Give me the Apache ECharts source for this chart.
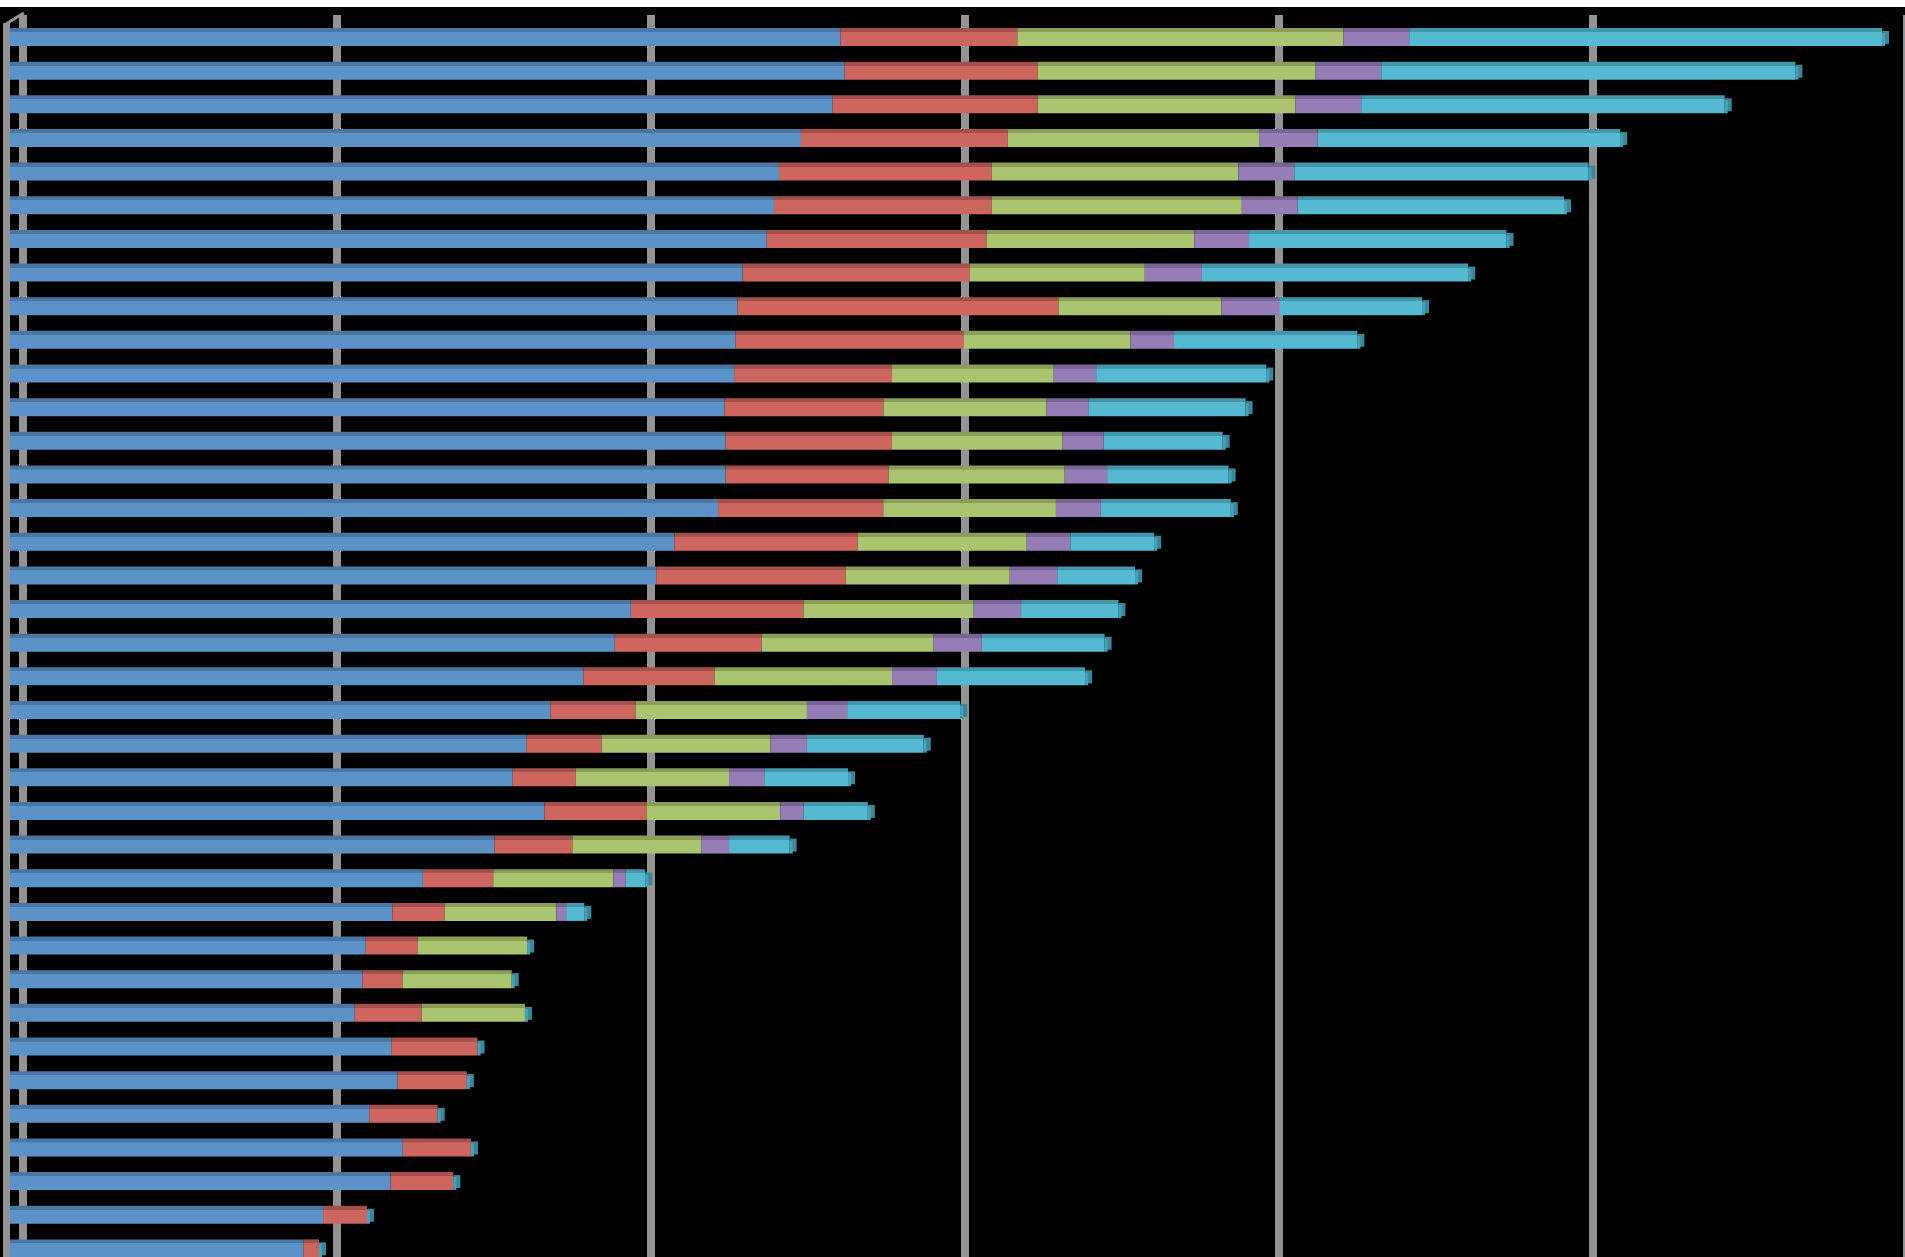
<!DOCTYPE html>
<html>
<head>
<meta charset="utf-8">
<script src="https://cdn.jsdelivr.net/npm/echarts@6/dist/echarts.min.js"></script>
<style>
html,body{margin:0;padding:0;background:#ffffff;width:1905px;height:1257px;overflow:hidden;}
#chart{position:absolute;left:0;top:7px;width:1905px;height:1262px;background:#000000;}
</style>
</head>
<body>
<div id="chart"></div>
<script>
var categories = [];
for (var i = 1; i <= 37; i++) { categories.push('R' + i); }

var blue   = [26.45, 26.58, 26.20, 25.19, 24.49, 24.33, 24.10, 23.33, 23.17, 23.10, 23.06, 22.75, 22.79, 22.79, 22.55, 21.16, 20.58, 19.77, 19.26, 18.26, 17.21, 16.44, 16.01, 17.02, 15.43, 13.15, 12.18, 11.33, 11.22, 10.98, 12.14, 12.34, 11.44, 12.51, 12.12, 9.97, 9.34];
var red    = [5.63, 6.15, 6.53, 6.58, 6.77, 6.93, 7.00, 7.24, 10.22, 7.28, 5.03, 5.07, 5.30, 5.19, 5.26, 5.84, 6.04, 5.50, 4.68, 4.18, 2.71, 2.40, 2.01, 3.25, 2.48, 2.24, 1.66, 1.66, 1.28, 2.13, 2.75, 2.21, 2.18, 2.17, 2.00, 1.40, 0.50];
var green  = [10.38, 8.85, 8.20, 8.01, 7.86, 7.97, 6.62, 5.57, 5.19, 5.30, 5.15, 5.19, 5.42, 5.61, 5.50, 5.38, 5.22, 5.42, 5.46, 5.65, 5.46, 5.38, 4.88, 4.26, 4.10, 3.83, 3.56, 3.48, 3.48, 3.29, 0, 0, 0, 0, 0, 0, 0];
var purple = [2.10, 2.09, 2.10, 1.86, 1.78, 1.78, 1.74, 1.82, 1.86, 1.39, 1.35, 1.35, 1.32, 1.35, 1.43, 1.39, 1.51, 1.51, 1.55, 1.43, 1.28, 1.16, 1.12, 0.74, 0.89, 0.39, 0.31, 0, 0, 0, 0, 0, 0, 0, 0, 0, 0];
var cyan   = [15.06, 13.19, 11.58, 9.64, 9.37, 8.48, 8.20, 8.48, 4.53, 5.84, 5.42, 4.99, 3.79, 3.87, 4.14, 2.67, 2.48, 3.10, 3.91, 4.72, 3.60, 3.72, 2.67, 2.05, 1.93, 0.62, 0.58, 0, 0, 0, 0, 0, 0, 0, 0, 0, 0];

var xTicks = [0, 10, 20, 30, 40, 50, 60];

var seriesNames = ['S1', 'S2', 'S3', 'S4', 'S5'];
var seriesData = [blue, red, green, purple, cyan];
var frontColors = ['#5B93C8', '#CD665F', '#AAC46F', '#957EB6', '#55B9D2'];
var topColors   = ['#4A76A3', '#A4504D', '#8A9E58', '#7A6496', '#4496AB'];
var capColor = '#3A8799';

var totals = blue.map(function (v, i) { return v + red[i] + green[i] + purple[i] + cyan[i]; });

function faceGradient(topC, frontC) {
  return {
    type: 'linear', x: 0, y: 0, x2: 0, y2: 1,
    colorStops: [
      { offset: 0, color: topC },
      { offset: 0.22, color: topC },
      { offset: 0.23, color: frontC },
      { offset: 1, color: frontC }
    ]
  };
}

var series = seriesData.map(function (arr, k) {
  return {
    name: seriesNames[k],
    type: 'bar',
    stack: 'total',
    xAxisIndex: 0,
    yAxisIndex: 0,
    barWidth: 18,
    data: arr,
    itemStyle: { color: faceGradient(topColors[k], frontColors[k]) },
    emphasis: { disabled: true },
    z: 3
  };
});

series.push({
  name: 'cap',
  type: 'custom',
  xAxisIndex: 0,
  yAxisIndex: 0,
  z: 4,
  data: totals.map(function (t, i) { return [t, i]; }),
  renderItem: function (params, api) {
    var p = api.coord([api.value(0), api.value(1)]);
    var top = p[1] - 9;
    return {
      type: 'group',
      children: [
        { type: 'rect', shape: { x: p[0], y: top + 3, width: 7, height: 13 }, style: { fill: capColor } },
        { type: 'rect', shape: { x: p[0], y: top + 5, width: 3, height: 13 }, style: { fill: '#4A9FB4' } }
      ]
    };
  }
});

var chart = echarts.init(document.getElementById('chart'), null, { renderer: 'canvas' });
chart.setOption({
  backgroundColor: '#000000',
  animation: false,
  grid: [
    { left: 10, width: 1884, top: 13.2, height: 1245, containLabel: false, outerBoundsMode: 'none' },
    { left: 23, width: 1884, top: 8, height: 1254, containLabel: false, outerBoundsMode: 'none' }
  ],
  xAxis: [
    { type: 'value', gridIndex: 0, min: xTicks[0], max: xTicks[xTicks.length - 1], interval: 10,
      axisLine: { show: false }, axisTick: { show: false }, axisLabel: { show: false }, splitLine: { show: false } },
    { type: 'value', gridIndex: 1, min: xTicks[0], max: xTicks[xTicks.length - 1], interval: 10,
      axisLine: { show: false }, axisTick: { show: false }, axisLabel: { show: false },
      splitLine: { show: true, lineStyle: { color: '#939393', width: 8 } } }
  ],
  yAxis: [
    { type: 'category', gridIndex: 0, data: categories, inverse: true,
      axisLine: { show: false }, axisTick: { show: false }, axisLabel: { show: false }, splitLine: { show: false } },
    { type: 'category', gridIndex: 1, data: categories, inverse: true, show: false }
  ],
  series: series,
  graphic: [
    { type: 'rect', z: 1, shape: { x: 3, y: 16, width: 7, height: 1250 }, style: { fill: '#939393' } },
    { type: 'polyline', z: 1, shape: { points: [[6, 17], [14, 12], [24, 6]] }, style: { stroke: '#939393', lineWidth: 3, fill: null } }
  ]
});
</script>
</body>
</html>
